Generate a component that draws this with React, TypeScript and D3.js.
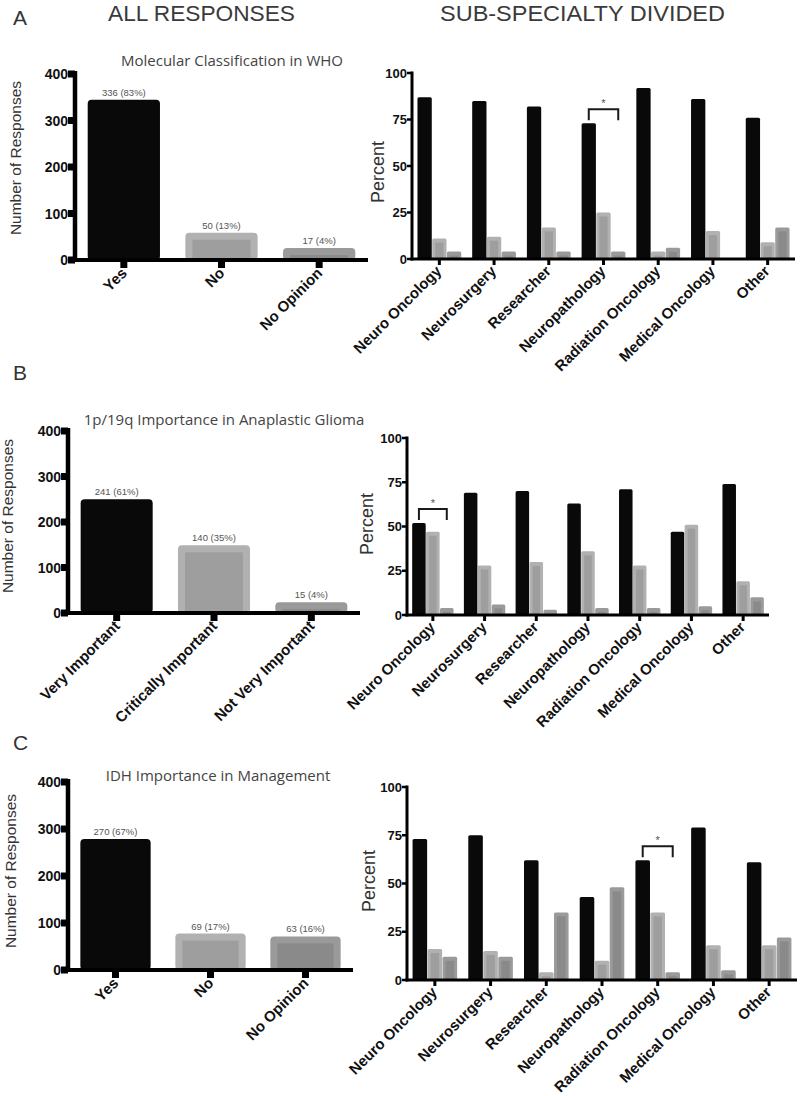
import React from "react";
import * as d3 from "d3";

// ---------- DATA ----------
const panelLetters = ["A", "B", "C"];
const headers = ["ALL RESPONSES", "SUB-SPECIALTY DIVIDED"];
const titles = [
  "Molecular Classification in WHO",
  "1p/19q Importance in Anaplastic Glioma",
  "IDH Importance in Management",
];

const specialties = [
  "Neuro Oncology",
  "Neurosurgery",
  "Researcher",
  "Neuropathology",
  "Radiation Oncology",
  "Medical Oncology",
  "Other",
];

const countTicks = [0, 100, 200, 300, 400];
const percentTicks = [0, 25, 50, 75, 100];

// Panel A
const whoCategories = ["Yes", "No", "No Opinion"];
const whoCounts = [336, 50, 17];
const whoPercents = [83, 13, 4];
const whoYes = [87, 85, 82, 73, 92, 86, 76];
const whoNo = [11, 12, 17, 25, 4, 15, 9];
const whoNoOpinion = [4, 4, 4, 4, 6, 0, 17];

// Panel B
const codelCategories = ["Very Important", "Critically Important", "Not Very Important"];
const codelCounts = [241, 140, 15];
const codelPercents = [61, 35, 4];
const codelVery = [52, 69, 70, 63, 71, 47, 74];
const codelCritical = [47, 28, 30, 36, 28, 51, 19];
const codelNotVery = [4, 6, 3, 4, 4, 5, 10];

// Panel C
const idhCategories = ["Yes", "No", "No Opinion"];
const idhCounts = [270, 69, 63];
const idhPercents = [67, 17, 16];
const idhYes = [73, 75, 62, 43, 62, 79, 61];
const idhNo = [16, 15, 4, 10, 35, 18, 18];
const idhNoOpinion = [12, 12, 35, 48, 4, 5, 22];

// significance bracket (index into specialties)
const sigIndex = [3, 0, 4];

// ---------- STYLE ----------
const FONT = "'Liberation Sans', Arial, Helvetica, sans-serif";
const TFONT = "'Open Sans', 'DejaVu Sans', sans-serif";
const barStyles = [
  { outer: "#090909", inner: null as string | null },
  { outer: "#b1b1b1", inner: "#9e9e9e" },
  { outer: "#9a9a9a", inner: "#8a8a8a" },
];

type CountProps = {
  ax: number; xEnd: number; yTop: number; y0: number;
  cats: string[]; counts: number[]; pcts: number[];
  title: string; titleX: number; titleY: number;
  ylabX: number; ylabY: number;
};

function CountChart(p: CountProps) {
  const x = d3.scaleBand<string>().domain(p.cats).range([p.ax, p.xEnd]).paddingInner(0.26).paddingOuter(0.13);
  const y = d3.scaleLinear().domain([0, 400]).range([p.y0, p.yTop]);
  const bw = x.bandwidth();
  return (
    <g>
      <text x={p.titleX} y={p.titleY} textAnchor="middle" fontFamily={TFONT} fontSize={15} fill="#444">{p.title}</text>
      <text transform={`translate(${p.ylabX},${p.ylabY}) rotate(-90)`} textAnchor="middle" fontFamily={FONT} fontSize={15.5} fill="#333">Number of Responses</text>
      {p.cats.map((c, i) => {
        const bx = x(c)!;
        const top = y(p.counts[i]) - 4;
        const st = barStyles[i];
        return (
          <g key={c}>
            <rect x={bx} y={top} width={bw} height={p.y0 - top} rx={4} fill={st.outer} />
            {st.inner && <rect x={bx + 7} y={top + 7} width={bw - 14} height={p.y0 - top - 7} fill={st.inner} />}
            <text x={bx + bw / 2} y={top - 4} textAnchor="middle" fontFamily={FONT} fontSize={9.5} fill="#555">{`${p.counts[i]} (${p.pcts[i]}%)`}</text>
          </g>
        );
      })}
      {/* axes */}
      <line x1={p.ax} x2={p.ax} y1={p.yTop - 3} y2={p.y0 + 2} stroke="#000" strokeWidth={4.5} />
      <line x1={p.ax - 2} x2={p.xEnd} y1={p.y0} y2={p.y0} stroke="#000" strokeWidth={4} />
      {countTicks.map((t) => (
        <g key={t}>
          <line x1={p.ax - 7} x2={p.ax} y1={y(t)} y2={y(t)} stroke="#000" strokeWidth={7} />
          <text x={p.ax - 7} y={y(t)} dy="0.36em" textAnchor="end" fontFamily={FONT} fontWeight="bold" fontSize={14} fill="#111">{t}</text>
        </g>
      ))}
      {p.cats.map((c) => {
        const cx = x(c)! + bw / 2;
        return (
          <g key={c}>
            <rect x={cx - 3.5} y={p.y0} width={7} height={8} fill="#000" />
            <text transform={`translate(${cx + 4},${p.y0 + 14}) rotate(-45)`} textAnchor="end" fontFamily={FONT} fontWeight="bold" fontSize={15} fill="#111">{c}</text>
          </g>
        );
      })}
    </g>
  );
}

type PctProps = {
  ax: number; xEnd: number; yTop: number; y0: number;
  series: number[][]; sig: number; ylabX: number; ylabY: number;
};

function PercentChart(p: PctProps) {
  const x0 = d3.scaleBand<string>().domain(specialties).range([p.ax, p.xEnd]).paddingInner(0.2).paddingOuter(0.1);
  const x1 = d3.scaleBand<number>().domain([0, 1, 2]).range([0, x0.bandwidth()]).paddingInner(0.03);
  const y = d3.scaleLinear().domain([0, 100]).range([p.y0, p.yTop]);
  const w = x1.bandwidth();
  const sigCat = specialties[p.sig];
  const bl = x0(sigCat)! + x1(0)! + w / 2;
  const br = x0(sigCat)! + x1(2)! + w / 2;
  const bTop = y(p.series[0][p.sig]) - 14;
  return (
    <g>
      <text transform={`translate(${p.ylabX},${p.ylabY}) rotate(-90)`} textAnchor="middle" fontFamily={FONT} fontSize={18} fill="#333">Percent</text>
      {specialties.map((c, ci) => (
        <g key={c}>
          {p.series.map((s, si) => {
            const bx = x0(c)! + x1(si)!;
            const v = s[ci];
            if (v <= 0) return null;
            const top = y(v);
            const st = barStyles[si];
            return (
              <g key={si}>
                <rect x={bx} y={top} width={w} height={p.y0 - top} rx={1.5} fill={st.outer} />
                {st.inner && p.y0 - top > 5 && (
                  <rect x={bx + 3} y={top + 4} width={w - 6} height={p.y0 - top - 4} fill={st.inner} />
                )}
              </g>
            );
          })}
        </g>
      ))}
      {/* bracket */}
      <path d={`M${bl},${bTop + 11}V${bTop}H${br}V${bTop + 11}`} fill="none" stroke="#1a1a1a" strokeWidth={2} />
      <text x={(bl + br) / 2} y={bTop - 2} textAnchor="middle" fontFamily={FONT} fontSize={11} fill="#555">*</text>
      {/* axes */}
      <line x1={p.ax} x2={p.ax} y1={p.yTop - 1.5} y2={p.y0 + 1.5} stroke="#000" strokeWidth={3} />
      <line x1={p.ax - 1.5} x2={p.xEnd} y1={p.y0} y2={p.y0} stroke="#000" strokeWidth={3} />
      {percentTicks.map((t) => (
        <g key={t}>
          <line x1={p.ax - 5} x2={p.ax} y1={y(t)} y2={y(t)} stroke="#000" strokeWidth={2.5} />
          <text x={p.ax - 5} y={y(t)} dy="0.36em" textAnchor="end" fontFamily={FONT} fontWeight="bold" fontSize={13} fill="#111">{t}</text>
        </g>
      ))}
      {specialties.map((c) => {
        const cx = x0(c)! + x0.bandwidth() / 2;
        return (
          <g key={c}>
            <line x1={cx} x2={cx} y1={p.y0} y2={p.y0 + 6} stroke="#000" strokeWidth={3} />
            <text transform={`translate(${cx + 3},${p.y0 + 13}) rotate(-45)`} textAnchor="end" fontFamily={FONT} fontWeight="bold" fontSize={15} fill="#111">{c}</text>
          </g>
        );
      })}
    </g>
  );
}

export default function App() {
  return (
    <svg width={800} height={1096} style={{ position: "absolute", left: 0, top: 0, background: "#fff" }}>
      <rect width={800} height={1096} fill="#fff" />
      {/* headers */}
      <text x={13} y={25} fontFamily={FONT} fontSize={21} fill="#333">{panelLetters[0]}</text>
      <text x={13} y={380} fontFamily={FONT} fontSize={21} fill="#333">{panelLetters[1]}</text>
      <text x={13} y={750} fontFamily={FONT} fontSize={21} fill="#333">{panelLetters[2]}</text>
      <text x={108} y={21} textLength={187} lengthAdjust="spacingAndGlyphs" fontFamily={FONT} fontSize={22} fill="#3a3a3a">{headers[0]}</text>
      <text x={440} y={21} textLength={285} lengthAdjust="spacingAndGlyphs" fontFamily={FONT} fontSize={22} fill="#3a3a3a">{headers[1]}</text>

      <CountChart ax={75} xEnd={368} yTop={74} y0={260} cats={whoCategories} counts={whoCounts} pcts={whoPercents}
        title={titles[0]} titleX={232} titleY={66} ylabX={21} ylabY={158} />
      <PercentChart ax={412} xEnd={795} yTop={73} y0={259} series={[whoYes, whoNo, whoNoOpinion]} sig={sigIndex[0]} ylabX={384} ylabY={172} />

      <CountChart ax={68} xEnd={360} yTop={431} y0={613} cats={codelCategories} counts={codelCounts} pcts={codelPercents}
        title={titles[1]} titleX={224} titleY={425} ylabX={13} ylabY={516} />
      <PercentChart ax={407} xEnd={769} yTop={438} y0={615} series={[codelVery, codelCritical, codelNotVery]} sig={sigIndex[1]} ylabX={373} ylabY={524} />

      <CountChart ax={68} xEnd={353} yTop={782} y0={970} cats={idhCategories} counts={idhCounts} pcts={idhPercents}
        title={titles[2]} titleX={218} titleY={781} ylabX={16} ylabY={871} />
      <PercentChart ax={407} xEnd={797} yTop={787} y0={980} series={[idhYes, idhNo, idhNoOpinion]} sig={sigIndex[2]} ylabX={375} ylabY={881} />
    </svg>
  );
}
